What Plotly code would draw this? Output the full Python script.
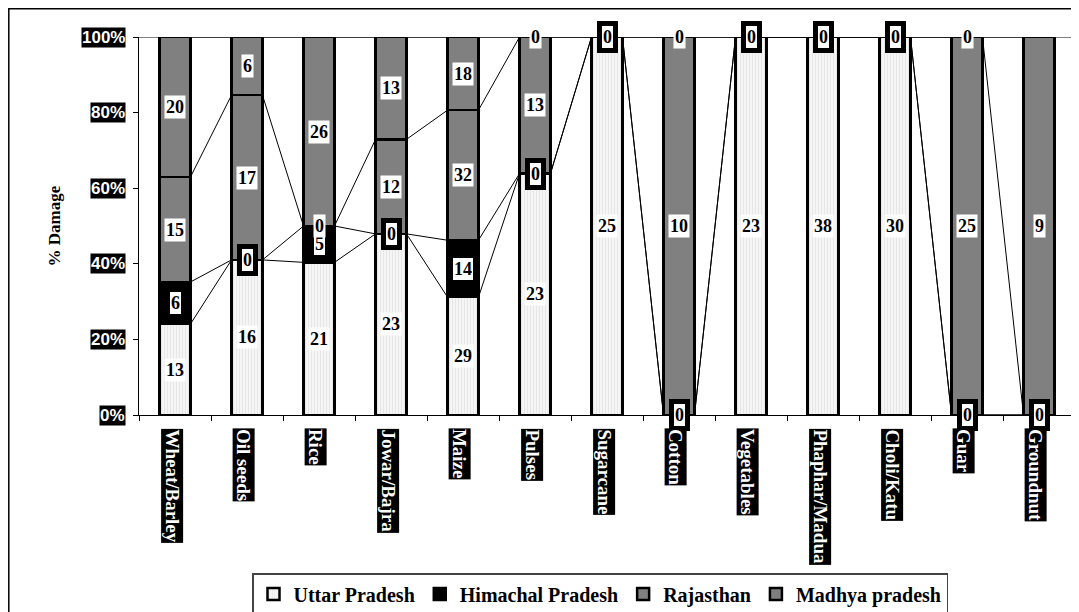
import plotly.graph_objects as go

categories = ["Wheat/Barley", "Oil seeds", "Rice", "Jowar/Bajra", "Maize", "Pulses",
              "Sugarcane", "Cotton", "Vegetables", "Phaphar/Madua", "Choli/Katu",
              "Guar", "Groundnut"]
uttar_pradesh = [13, 16, 21, 23, 29, 23, 25, 0, 23, 38, 30, 0, 0]
himachal_pradesh = [6, 0, 5, 0, 14, 0, 0, 0, 0, 0, 0, 0, 0]
rajasthan = [15, 17, 0, 12, 32, 13, None, 10, None, None, None, 25, None]
madhya_pradesh = [20, 6, 26, 13, 18, 0, None, 0, None, None, None, 0, 9]
series_names = ["Uttar Pradesh", "Himachal Pradesh", "Rajasthan", "Madhya pradesh"]
y_ticks = [0, 20, 40, 60, 80, 100]

series = [uttar_pradesh, himachal_pradesh, rajasthan, madhya_pradesh]
n = len(categories)
totals = [sum(s[i] for s in series if s[i] is not None) for i in range(n)]
pct = [[None if s[i] is None else (s[i] / totals[i] * 100 if totals[i] else 0) for i in range(n)]
       for s in series]

OFF = 8  # page body margin
W, H = 1079 - OFF, 612 - OFF
L, T = 139 - OFF, 37 - OFF
R = W - (1075 - OFF)
B = H - (415 - OFF)
PW, PH = W - L - R, H - T - B
def px_x(p): return (p - OFF - L) / PW       # p: page pixel
def px_y(p): return (H - B - (p - OFF)) / PH

bar_w = 0.43
gray = "#808080"
markers = [
    dict(color="#f3f3f3", pattern=dict(shape="|", fgcolor="#cfcfcf", bgcolor="#f5f5f5",
                                       size=3, solidity=0.25),
         line=dict(color="black", width=2.5)),
    dict(color="black", line=dict(color="black", width=2.5)),
    dict(color=gray, line=dict(color="black", width=2.5)),
    dict(color=gray, line=dict(color="black", width=2.5)),
]

fig = go.Figure()
xs = list(range(n))
for k in range(4):
    fig.add_trace(go.Bar(x=xs, y=pct[k], name=series_names[k], marker=markers[k],
                         width=bar_w, hoverinfo="skip"))

# series lines connecting the top of each series between adjacent bars
tops = []
cum = [0] * n
for k in range(4):
    cum = [cum[i] + (pct[k][i] or 0) for i in range(n)]
    tops.append(cum[:])
for k in range(4):
    lx, ly = [], []
    for i in range(n - 1):
        lx += [i + bar_w / 2, i + 1 - bar_w / 2, None]
        ly += [tops[k][i], tops[k][i + 1], None]
    fig.add_trace(go.Scatter(x=lx, y=ly, mode="lines", line=dict(color="black", width=1),
                             showlegend=False, hoverinfo="skip"))

annotations = []
# data labels
base = [0] * n
for k in range(4):
    for i in range(n):
        v = series[k][i]
        if v is None:
            continue
        yc = base[i] + pct[k][i] / 2
        ann = dict(x=i, y=yc, xref="x", yref="y", text="<b>%s</b>" % v, showarrow=False,
                   font=dict(family="Liberation Serif", size=18, color="black"),
                   bgcolor="white", borderpad=1)
        if k == 1:
            ann.update(bordercolor="black", borderwidth=5)
        annotations.append(ann)
    base = [base[i] + (pct[k][i] or 0) for i in range(n)]

# y tick labels
for t in y_ticks:
    annotations.append(dict(x=px_x(126), y=t, xref="paper", yref="y", xanchor="right",
                            yanchor="middle", text="<b>%d%%</b>" % t, showarrow=False,
                            font=dict(family="Liberation Sans", size=17, color="white"),
                            bgcolor="black", borderpad=0))
# category labels
for i, c in enumerate(categories):
    annotations.append(dict(x=i - 0.04, y=px_y(428), xref="x", yref="paper", xanchor="center",
                            yanchor="top", text="<b>%s</b>" % c, textangle=90, showarrow=False,
                            font=dict(family="Liberation Serif", size=19, color="white"),
                            bgcolor="black", borderpad=0))
# axis title
annotations.append(dict(x=px_x(42), y=50, xref="paper", yref="y", text="<b>% Damage</b>",
                        textangle=-90, showarrow=False,
                        font=dict(family="Liberation Serif", size=17, color="black")))

shapes = [
    dict(type="line", xref="paper", yref="y", x0=0, x1=1, y0=100, y1=100,
         line=dict(color="black", width=1)),
    dict(type="line", xref="paper", yref="y", x0=1, x1=1, y0=0, y1=100,
         line=dict(color="#999999", width=1.5)),
    dict(type="rect", xref="paper", yref="paper", x0=px_x(8.8), x1=px_x(1095),
         y0=px_y(630), y1=px_y(8.8), line=dict(color="black", width=1.5)),
]

fig.update_layout(
    width=W, height=H, margin=dict(l=L, r=R, t=T, b=B, autoexpand=False),
    barmode="stack", plot_bgcolor="white", paper_bgcolor="white",
    xaxis=dict(range=[-0.5, n - 0.5], tickvals=[i - 0.5 for i in range(n + 1)],
               ticktext=[""] * (n + 1), ticks="outside", ticklen=5, tickcolor="black",
               showline=True, linecolor="black", linewidth=1, showgrid=False, zeroline=False,
               fixedrange=True),
    yaxis=dict(range=[0, 100], tickvals=y_ticks, ticks="outside", ticklen=5, tickcolor="black",
               showticklabels=False, showline=True, linecolor="black", linewidth=1,
               showgrid=False, zeroline=False, fixedrange=True),
    legend=dict(orientation="h", x=px_x(600), xanchor="center", y=px_y(573), yanchor="top",
                traceorder="normal", bordercolor="#444444", borderwidth=1.5, bgcolor="white",
                font=dict(family="Liberation Serif", size=20, color="black", weight="bold"),
                itemwidth=30, tracegroupgap=0),
    annotations=annotations, shapes=shapes, showlegend=True,
)

fig.write_html("out.html")
